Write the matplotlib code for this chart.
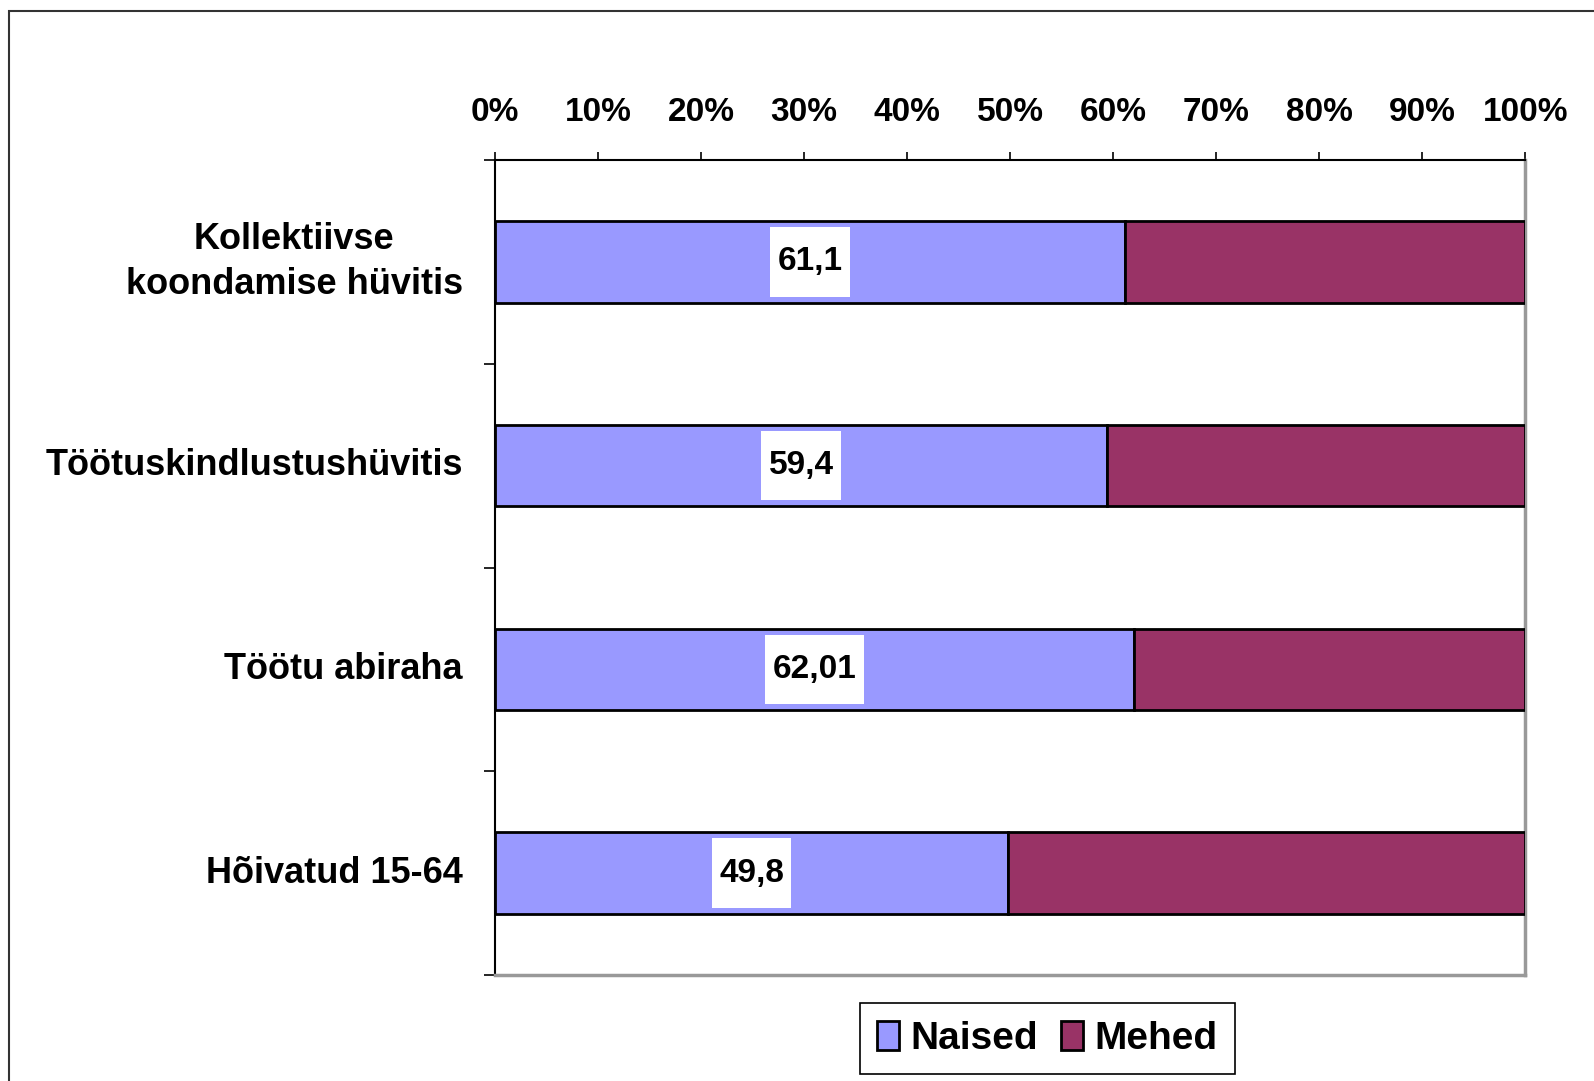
import matplotlib.pyplot as plt
from matplotlib.patches import Rectangle
from matplotlib.path import Path
from matplotlib.ticker import FixedLocator, NullFormatter
from matplotlib import font_manager

categories = ['Kollektiivse\nkoondamise hüvitis', 'Töötuskindlustushüvitis',
              'Töötu abiraha', 'Hõivatud 15-64']
naised = [61.1, 59.4, 62.01, 49.8]
naised_labels = ['61,1', '59,4', '62,01', '49,8']
mehed = [100 - v for v in naised]
x_ticks = [0, 10, 20, 30, 40, 50, 60, 70, 80, 90, 100]

NAISED_COLOR = '#9999FF'
MEHED_COLOR = '#993366'

names = {f.name for f in font_manager.fontManager.ttflist}
base_font = 'Liberation Sans' if 'Liberation Sans' in names else 'DejaVu Sans'
narrow_font = 'Liberation Sans Narrow' if 'Liberation Sans Narrow' in names else base_font
plt.rcParams['font.family'] = [base_font, 'DejaVu Sans']


def label_box(x0, y0, width, height, mutation_size):
    # white box, more padding vertically than horizontally (like Excel labels)
    px, py = 0.22 * mutation_size, 0.58 * mutation_size
    x0, x1 = x0 - px, x0 + width + px
    y0, y1 = y0 - py, y0 + height + py
    return Path([(x0, y0), (x1, y0), (x1, y1), (x0, y1), (x0, y0)], closed=True)


fig = plt.figure(figsize=(15.94, 10.81), dpi=100)
ax = fig.add_axes([0.3105, 0.098, 0.6465, 0.754])

# outer chart border
fig.patches.append(Rectangle((9 / 1594, 1 - 1092 / 1081), 1.1, 1.0,
                             transform=fig.transFigure, fill=False,
                             edgecolor='#333333', linewidth=1.5))

y = list(range(len(categories)))
ax.barh(y, naised, height=0.4, color=NAISED_COLOR, edgecolor='black',
        linewidth=2, label='Naised', zorder=3)
ax.barh(y, mehed, left=naised, height=0.4, color=MEHED_COLOR, edgecolor='black',
        linewidth=2, label='Mehed', zorder=3)

for yi, v, txt in zip(y, naised, naised_labels):
    ax.text(v / 2, yi, txt, ha='center', va='center', fontsize=24,
            fontweight='bold', zorder=4,
            bbox=dict(boxstyle=label_box, facecolor='white', edgecolor='none'))

ax.set_xlim(0, 100)
ax.set_ylim(3.5, -0.5)

ax.xaxis.tick_top()
ax.set_xticks(x_ticks)
ax.set_xticklabels([f'{t}%' for t in x_ticks], fontsize=24, fontweight='bold')
ax.tick_params(axis='x', direction='out', length=6, width=1.2, pad=17)

# category labels: centred on the bars, ticks sit between the categories
ax.set_yticks(y)
ax.yaxis.set_major_formatter(NullFormatter())
ax.tick_params(axis='y', which='major', length=0)
for yi, cat in zip(y, categories):
    ax.annotate(cat, xy=(0, yi), xycoords=ax.get_yaxis_transform(),
                xytext=(-23, 0), textcoords='offset points',
                ha='right', va='center', multialignment='center',
                linespacing=1.35, fontsize=26, fontweight='bold')
ax.yaxis.set_minor_locator(FixedLocator([-0.5, 0.5, 1.5, 2.5, 3.5]))
ax.tick_params(axis='y', which='minor', direction='out', length=8, width=1.2)

ax.spines['top'].set_color('black')
ax.spines['left'].set_color('black')
ax.spines['top'].set_linewidth(1.5)
ax.spines['left'].set_linewidth(1.5)
ax.spines['right'].set_color('#999999')
ax.spines['bottom'].set_color('#999999')
ax.spines['right'].set_linewidth(2.5)
ax.spines['bottom'].set_linewidth(2.5)

leg = fig.legend(loc='center', bbox_to_anchor=(0.657, 0.039), ncol=2,
                 prop={'family': narrow_font, 'weight': 'bold', 'size': 28},
                 handlelength=0.55, handleheight=0.75, handletextpad=0.3,
                 columnspacing=0.6, fancybox=False, edgecolor='black',
                 framealpha=1, borderpad=0.45)
leg.get_frame().set_linewidth(1.2)

fig.savefig('out.png', dpi=100)
